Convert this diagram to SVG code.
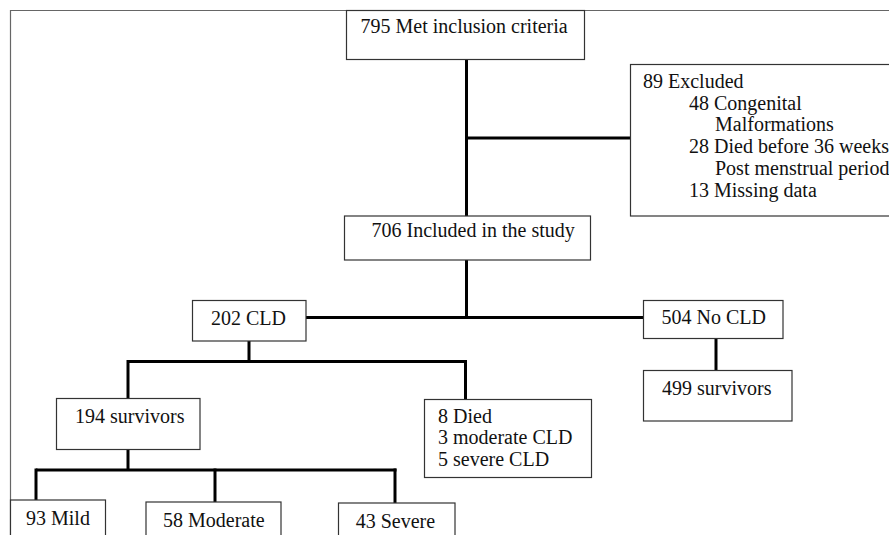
<svg xmlns="http://www.w3.org/2000/svg" width="889" height="535" viewBox="0 0 889 535">
<style>
.box{fill:#fff;stroke:#333;stroke-width:1.2}
.t{font-family:"Liberation Serif","Times New Roman",serif;font-size:20px;fill:#111}
.c{fill:none;stroke:#000;stroke-width:3}
</style>
<rect width="889" height="535" fill="#fff"/>
<path d="M10.5,545 V10.5 H900" fill="none" stroke="#666" stroke-width="1.2"/>
<g id="connectors">
<path class="c" d="M466.5,59 V216"/>
<path class="c" d="M466.5,138 H631"/>
<path class="c" d="M466.5,260 V317.5"/>
<path class="c" d="M306,317.5 H644"/>
<path class="c" d="M249,341 V361.5"/>
<path class="c" d="M128,361.5 H466.5"/>
<path class="c" d="M128,360 V398.5"/>
<path class="c" d="M465.5,360 V399.5"/>
<path class="c" d="M716,338.5 V370.5"/>
<path class="c" d="M128,449 V470"/>
<path class="c" d="M36,470 H396.5"/>
<path class="c" d="M36,468.5 V500"/>
<path class="c" d="M215,468.5 V502"/>
<path class="c" d="M395,468.5 V503"/>
</g>
<g id="n795">
<rect class="box" x="346.5" y="10.5" width="238" height="49"/>
<text class="t" x="360.5" y="33">795 Met inclusion criteria</text>
</g>
<g id="excluded">
<rect class="box" x="630.5" y="64.5" width="300" height="151.5"/>
<text class="t" x="643" y="88" font-size="20.4">89 Excluded</text>
<text class="t" x="689" y="109.7" font-size="20.4">48 Congenital</text>
<text class="t" x="715" y="131.4" font-size="20.4">Malformations</text>
<text class="t" x="689" y="153.1" font-size="20.4">28 Died before 36 weeks</text>
<text class="t" x="715" y="174.8" font-size="20.4">Post menstrual period</text>
<text class="t" x="689" y="196.5" font-size="20.4">13 Missing data</text>
</g>
<g id="n706">
<rect class="box" x="344.5" y="216" width="246" height="44"/>
<text class="t" x="371.5" y="237">706 Included in the study</text>
</g>
<g id="n202">
<rect class="box" x="192.5" y="300.5" width="113.5" height="40.5"/>
<text class="t" x="211" y="325">202 CLD</text>
</g>
<g id="n504">
<rect class="box" x="643.5" y="300.5" width="139.5" height="38"/>
<text class="t" x="661.5" y="323.5">504 No CLD</text>
</g>
<g id="n499">
<rect class="box" x="643.5" y="370.5" width="148.5" height="50.5"/>
<text class="t" x="662" y="395">499 survivors</text>
</g>
<g id="n194">
<rect class="box" x="56.5" y="398.5" width="143.5" height="51"/>
<text class="t" x="75" y="423">194 survivors</text>
</g>
<g id="n8died">
<rect class="box" x="424.5" y="399.5" width="167" height="78"/>
<text class="t" x="438" y="422.7">8 Died</text>
<text class="t" x="438" y="444.4">3 moderate CLD</text>
<text class="t" x="438" y="466.1">5 severe CLD</text>
</g>
<g id="n93">
<rect class="box" x="10.5" y="500" width="95" height="50"/>
<text class="t" x="26" y="525">93 Mild</text>
</g>
<g id="n58">
<rect class="box" x="146" y="502" width="135" height="50"/>
<text class="t" x="163" y="526.7">58 Moderate</text>
</g>
<g id="n43">
<rect class="box" x="338.5" y="503" width="116.5" height="50"/>
<text class="t" x="355.7" y="527.7">43 Severe</text>
</g>
</svg>
